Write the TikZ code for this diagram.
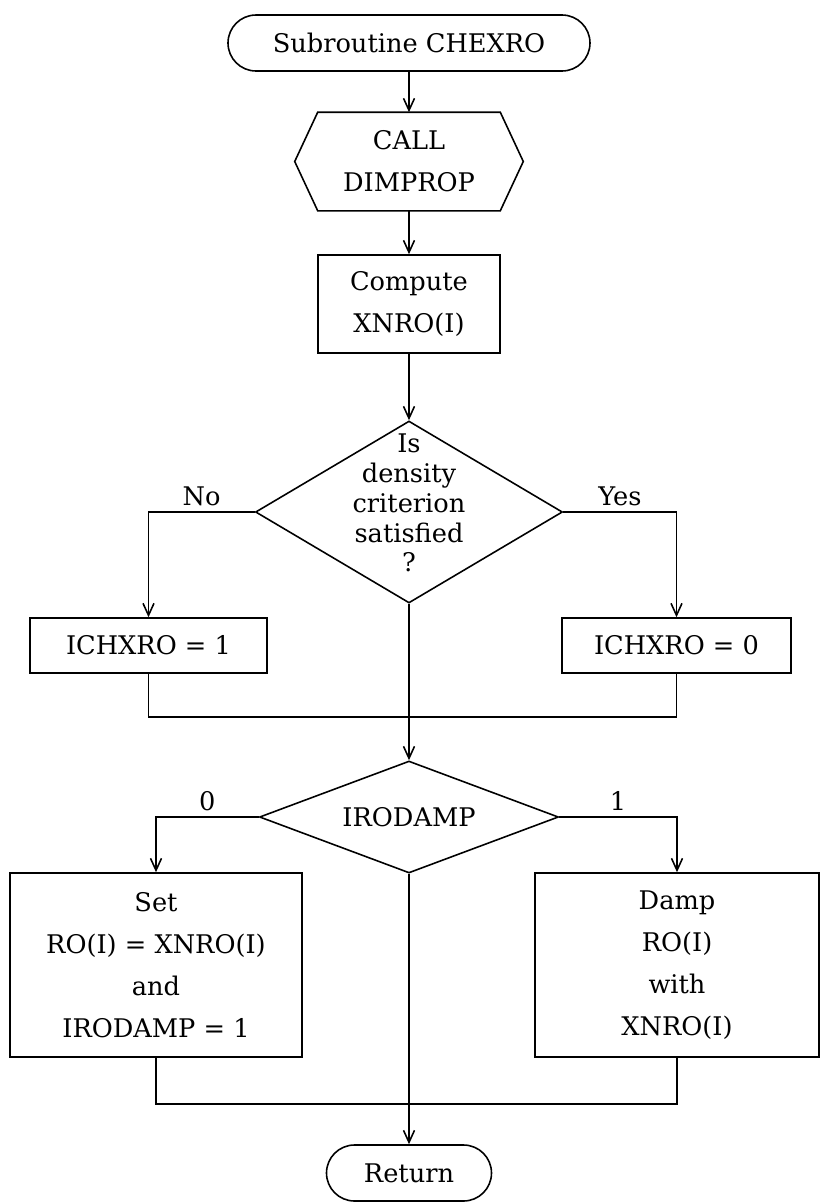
\documentclass[tikz,border=0pt]{standalone}
\usepackage{fontspec}
\setmainfont{DejaVu Serif}
\usetikzlibrary{arrows.meta,shapes.geometric,shapes.misc}

\begin{document}
\begin{tikzpicture}[
    line width=0.9pt,
    every node/.style={font=\fontsize{14.6pt}{23.9pt}\selectfont},
    arr/.style={-{Straight Barb[length=2.4mm,width=2.2mm]}},
    term/.style={draw, rounded rectangle, minimum height=1.12cm, inner sep=0pt},
    proc/.style={draw, rectangle, align=center, inner sep=0pt},
    dec/.style={draw, diamond, inner sep=0pt},
  ]
    \useasboundingbox (0,0) rectangle (16.62,-24.04);

    % Start and call
    \node[term, minimum width=7.24cm] (start) at (8.18,-0.86) {Subroutine CHEXRO};
    \node[align=center, inner sep=0pt, minimum width=4.54cm, minimum height=1.94cm] (call) at (8.18,-3.23) {CALL\\DIMPROP};
    \draw (call.west) -- ([xshift=0.46cm]call.north west) -- ([xshift=-0.46cm]call.north east)
        -- (call.east) -- ([xshift=-0.46cm]call.south east) -- ([xshift=0.46cm]call.south west) -- cycle;
    \node[proc, minimum width=3.64cm, minimum height=1.96cm] (comp) at (8.18,-6.08) {Compute\\XNRO(I)};

    % Density test
    \node[dec, minimum width=6.14cm, minimum height=3.64cm,
        label={[align=center, yshift=0.18cm, font=\fontsize{14.6pt}{17pt}\selectfont]center:Is\\density\\criterion\\satisfied\\?}]
        (dens) at (8.18,-10.24) {};
    \node[proc, minimum width=4.74cm, minimum height=1.10cm] (one) at (2.97,-12.91) {ICHXRO = 1};
    \node[proc, minimum width=4.58cm, minimum height=1.10cm] (zero) at (13.53,-12.91) {ICHXRO = 0};
    \coordinate (m1) at (8.18,-14.34);

    % Damping test
    \node[dec, aspect=2.67, minimum width=5.98cm, minimum height=2.24cm] (irod) at (8.18,-16.34) {IRODAMP};
    \node[proc, minimum width=5.84cm, minimum height=3.68cm] (set) at (3.12,-19.30) {Set\\RO(I) = XNRO(I)\\and\\IRODAMP = 1};
    \node[proc, minimum width=5.68cm, minimum height=3.68cm] (damp) at (13.54,-19.30) {Damp\\RO(I)\\with\\XNRO(I)};
    \coordinate (m2) at (8.18,-22.08);
    \node[term, minimum width=3.3cm] (ret) at (8.18,-23.46) {Return};

    % Connectors
    \draw[arr] (start) -- (call);
    \draw[arr] (call) -- (comp);
    \draw[arr] (comp) -- (dens);
    \draw[arr] (dens.west) -| (one.north) node[pos=0.25, above, inner sep=3pt] {No};
    \draw[arr] (dens.east) -| (zero.north) node[pos=0.25, above, inner sep=3pt] {Yes};
    \draw (one.south) |- (m1) -| (zero.south);
    \draw[arr] (dens.south) -- (irod.north);
    \draw[arr] (irod.west) -| (set.north) node[pos=0.25, above, inner sep=3pt] {0};
    \draw[arr] (irod.east) -| (damp.north) node[pos=0.25, above, inner sep=3pt] {1};
    \draw (set.south) |- (m2) -| (damp.south);
    \draw[arr] (irod.south) -- (ret.north);
\end{tikzpicture}
\end{document}
